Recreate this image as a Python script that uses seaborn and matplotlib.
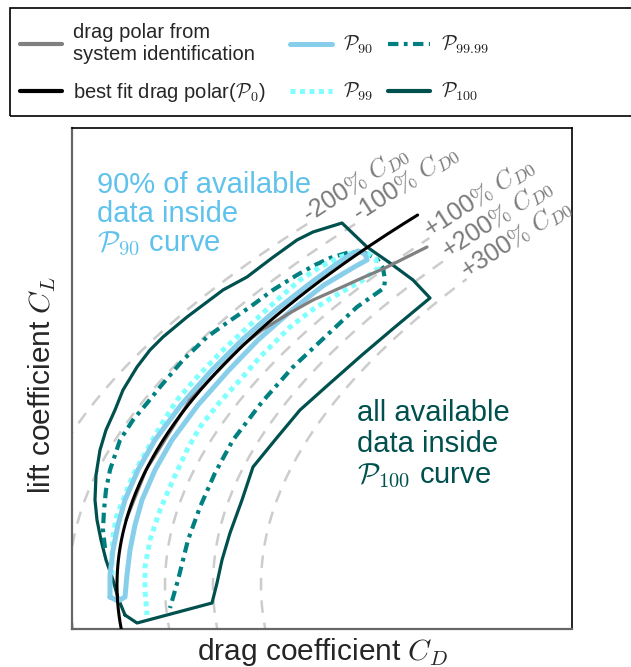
import numpy as np
import pandas as pd
import matplotlib
matplotlib.use("Agg")
import matplotlib.pyplot as plt
import seaborn as sns
from matplotlib.lines import Line2D
from matplotlib.patches import Rectangle

sns.set_theme(style="white")
plt.rcParams["font.family"] = ["Liberation Sans", "DejaVu Sans"]
plt.rcParams["mathtext.fontset"] = "cm"

# ---- best-fit drag polar  C_D = C_D0 + K * C_L^2 ----
CD0 = 0.024
K = 0.122
CL_FIT_MIN, CL_FIT_MAX = -0.15, 1.11

# constant-offset polars, expressed as percentages of C_D0
offset_pct = [-200, -100, 100, 200, 300]
offset_cl_end = [1.086, 1.09, 1.041, 0.98, 0.918]

# drag polar obtained from system identification
sysid_cd = [0.0285, 0.0385, 0.0605, 0.087, 0.0965, 0.1095, 0.122, 0.1355,
            0.1465, 0.158, 0.168, 0.179]
sysid_cl = [0.195, 0.345, 0.555, 0.72, 0.765, 0.813, 0.855, 0.891,
            0.921, 0.951, 0.981, 1.014]

# P90 boundary
p90_cd = [0.0205, 0.0205, 0.022, 0.0245, 0.028, 0.0345, 0.043, 0.056, 0.0715,
          0.0865, 0.1035, 0.1195, 0.133, 0.1405, 0.1445, 0.148, 0.149, 0.1435,
          0.1275, 0.1115, 0.0945, 0.08, 0.0645, 0.0515, 0.043, 0.0365,
          0.033, 0.0305, 0.029, 0.028, 0.0245, 0.0205]
p90_cl = [-0.036, 0.03, 0.105, 0.18, 0.255, 0.345, 0.435, 0.54, 0.645,
          0.735, 0.825, 0.9, 0.96, 0.99, 1.002, 0.993, 0.975, 0.957,
          0.9, 0.825, 0.735, 0.645, 0.54, 0.435, 0.345, 0.255,
          0.18, 0.105, 0.03, -0.036, -0.048, -0.036]

# P99 boundary
p99_cd = [0.0215, 0.0215, 0.022, 0.0235, 0.027, 0.032, 0.039, 0.046, 0.054,
          0.065, 0.077, 0.0905, 0.104, 0.1155, 0.1255, 0.1355, 0.144, 0.149,
          0.1535, 0.1545, 0.147, 0.132, 0.1215, 0.1105, 0.0955, 0.0855,
          0.075, 0.0655, 0.059, 0.052, 0.0455, 0.0405, 0.038, 0.038, 0.039]
p99_cl = [0.03, 0.09, 0.144, 0.201, 0.255, 0.33, 0.405, 0.48, 0.555,
          0.63, 0.705, 0.78, 0.855, 0.915, 0.954, 0.984, 1.002, 0.996,
          0.978, 0.951, 0.915, 0.864, 0.825, 0.774, 0.684, 0.615,
          0.546, 0.474, 0.405, 0.315, 0.225, 0.135, 0.054, -0.015, -0.09]

# P99.99 boundary
p9999_cd = [0.018, 0.017, 0.0175, 0.0185, 0.0205, 0.0255, 0.032, 0.0395,
            0.0455, 0.057, 0.069, 0.0795, 0.0905, 0.102, 0.114, 0.123,
            0.1305, 0.1405, 0.148, 0.154, 0.157, 0.158, 0.1575, 0.144,
            0.128, 0.112, 0.0965, 0.082, 0.073, 0.0655, 0.0595, 0.0545,
            0.0505]
p9999_cl = [0.111, 0.165, 0.225, 0.285, 0.345, 0.435, 0.495, 0.549,
            0.594, 0.675, 0.744, 0.789, 0.834, 0.885, 0.93, 0.96,
            0.981, 0.999, 0.996, 0.978, 0.951, 0.915, 0.891, 0.834,
            0.744, 0.654, 0.549, 0.435, 0.336, 0.234, 0.135, 0.015,
            -0.069]

# P100 boundary
p100_cd = [0.028, 0.0245, 0.022, 0.0185, 0.016, 0.014, 0.013, 0.0135, 0.0155,
           0.0185, 0.023, 0.027, 0.034, 0.0405, 0.047, 0.059, 0.077, 0.089,
           0.1015, 0.114, 0.122, 0.1365, 0.149, 0.1605, 0.172, 0.1805, 0.163,
           0.1465, 0.1295, 0.1155, 0.103, 0.092, 0.0865, 0.0805, 0.0765,
           0.074, 0.0715, 0.034, 0.028]
p100_cl = [-0.09, -0.039, 0.015, 0.075, 0.135, 0.195, 0.255, 0.33, 0.405,
           0.465, 0.525, 0.585, 0.654, 0.705, 0.744, 0.804, 0.885, 0.924,
           0.981, 1.035, 1.059, 1.086, 1.014, 0.966, 0.915, 0.861, 0.774,
           0.69, 0.6, 0.525, 0.435, 0.354, 0.255, 0.156, 0.075,
           0.006, -0.054, -0.114, -0.09]

C_SYSID = "#808080"
C_FIT = "black"
C_P90 = "#87ceeb"
C_P99 = "#80ffff"
C_P9999 = "#008080"
C_P100 = "#00504e"
C_TXT90 = "#5fc2ec"
C_GRID = "#cccccc"
C_OFFTXT = "#7a7a7a"

LS_P99 = (0, (1, 0.9))
LS_P9999 = (0, (2.5, 1.3, 0.9, 1.3))

fig = plt.figure(figsize=(6.31, 6.67), dpi=100)
ax = fig.add_axes([72 / 631, 1 - 629 / 667, 500 / 631, 501 / 667])


def draw(cd, cl, **kw):
    df = pd.DataFrame({"CD": cd, "CL": cl})
    sns.lineplot(data=df, x="CD", y="CL", sort=False, estimator=None, ax=ax,
                 legend=False, **kw)


# constant-offset polars with their labels at the upper end
cl_grid = np.linspace(CL_FIT_MIN, 1.2, 300)
for pct, cl_end in zip(offset_pct, offset_cl_end):
    cl = np.append(cl_grid[cl_grid < cl_end], cl_end)
    cd = CD0 * (1 + pct / 100) + K * cl ** 2
    draw(cd, cl, color=C_GRID, linewidth=1.8, linestyle=(0, (5, 4)), zorder=1)
    label = ("+" if pct > 0 else "") + f"{pct}" + r"$\%\ C_{D0}$"
    ax.annotate(label, xy=(cd[-1], cl[-1]), xytext=(0, 0),
                textcoords="offset points", rotation=33,
                rotation_mode="anchor", ha="left", va="baseline",
                fontsize=18, color=C_OFFTXT, annotation_clip=False)

draw(p100_cd, p100_cl, color=C_P100, linewidth=2.3, zorder=3)
draw(p9999_cd, p9999_cl, color=C_P9999, linewidth=3.0, linestyle=LS_P9999,
     zorder=3)
draw(p99_cd, p99_cl, color=C_P99, linewidth=3.6, linestyle=LS_P99, zorder=4)
draw(p90_cd, p90_cl, color=C_P90, linewidth=3.6, zorder=5,
     solid_joinstyle="round")
draw(sysid_cd, sysid_cl, color=C_SYSID, linewidth=2.3, zorder=6)

cl_fit = np.linspace(CL_FIT_MIN, CL_FIT_MAX, 200)
draw(CD0 + K * cl_fit ** 2, cl_fit, color=C_FIT, linewidth=2.2, zorder=7)

ax.set_xlim(0.0015, 0.2515)
ax.set_ylim(-0.132, 1.371)
ax.set_xticks([])
ax.set_yticks([])
ax.set_xlabel("")
ax.set_ylabel("")
for side in ["left", "bottom"]:
    ax.spines[side].set_color("#666666")
    ax.spines[side].set_linewidth(1.6)
for side in ["top", "right"]:
    ax.spines[side].set_color("black")
    ax.spines[side].set_linewidth(1.2)

ax.text(0.05, 0.915, "90% of available\ndata inside\n$\\mathcal{P}_{90}$ curve",
        transform=ax.transAxes, fontsize=21, color=C_TXT90, va="top",
        ha="left", linespacing=1.05)
ax.text(0.57, 0.46, "all available\ndata inside\n$\\mathcal{P}_{100}$ curve",
        transform=ax.transAxes, fontsize=21, color=C_P100, va="top",
        ha="left", linespacing=1.15)

fig.text(322 / 631, 1 - 652 / 667, "drag coefficient $C_D$", fontsize=21.5,
         ha="center", va="center")
fig.text(42 / 631, 1 - 385 / 667, "lift coefficient $C_L$", fontsize=21.5,
         ha="center", va="center", rotation=90)

# legend: three columns, each placed on its own so the rows line up
legend_cols = [
    ([Line2D([], [], color=C_SYSID, linewidth=3),
      Line2D([], [], color=C_FIT, linewidth=3)],
     ["drag polar from\nsystem identification",
      "best fit drag polar($\\mathcal{P}_0$)"],
     20, 23, 0.85),
    ([Line2D([], [], color=C_P90, linewidth=3.6),
      Line2D([], [], color=C_P99, linewidth=3.6, linestyle=LS_P99)],
     ["$\\mathcal{P}_{90}$", "$\\mathcal{P}_{99}$"],
     290, 34, 1.2),
    ([Line2D([], [], color=C_P9999, linewidth=3.0, linestyle=LS_P9999),
      Line2D([], [], color=C_P100, linewidth=3)],
     ["$\\mathcal{P}_{99.99}$", "$\\mathcal{P}_{100}$"],
     388, 34, 1.2),
]
for hs, ls, x_px, y_px, spacing in legend_cols:
    fig.legend(hs, ls, ncol=1, loc="upper left",
               bbox_to_anchor=(x_px / 631, 1 - y_px / 667), frameon=False,
               fontsize=14.5, handlelength=2.1, handletextpad=0.55,
               labelspacing=spacing, borderaxespad=0, borderpad=0)
fig.patches.append(Rectangle((10 / 631, 1 - 116 / 667), 0.99, 108 / 667,
                             transform=fig.transFigure, fill=False,
                             edgecolor="black", linewidth=1.2))

fig.savefig("out.png", dpi=100)
